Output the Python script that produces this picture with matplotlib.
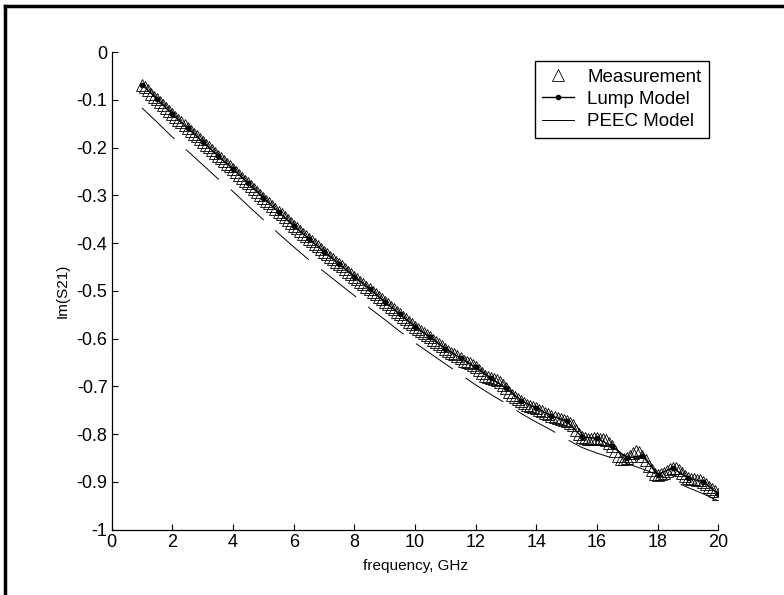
import numpy as np
import matplotlib
matplotlib.use('Agg')
import matplotlib.pyplot as plt
from matplotlib.lines import Line2D

plt.rcParams['font.family'] = ['Liberation Sans', 'DejaVu Sans']

# measurement, 1 to 20 GHz every 0.1 GHz
meas_f = np.round(np.arange(10, 201) / 10.0, 1)
meas_im = [
    -0.068, -0.074, -0.080, -0.087, -0.093, -0.099, -0.105, -0.111, -0.118, -0.124,
    -0.130, -0.136, -0.142, -0.147, -0.153, -0.159, -0.165, -0.171, -0.176, -0.182,
    -0.188, -0.194, -0.199, -0.205, -0.211, -0.217, -0.222, -0.228, -0.234, -0.239,
    -0.245, -0.251, -0.257, -0.263, -0.269, -0.275, -0.281, -0.287, -0.293, -0.299,
    -0.305, -0.311, -0.317, -0.323, -0.329, -0.335, -0.340, -0.346, -0.352, -0.358,
    -0.364, -0.369, -0.375, -0.380, -0.386, -0.391, -0.396, -0.402, -0.407, -0.413,
    -0.418, -0.423, -0.429, -0.434, -0.439, -0.444, -0.449, -0.455, -0.460, -0.465,
    -0.470, -0.475, -0.481, -0.486, -0.491, -0.496, -0.502, -0.507, -0.512, -0.518,
    -0.523, -0.528, -0.533, -0.539, -0.544, -0.549, -0.554, -0.559, -0.565, -0.570,
    -0.575, -0.579, -0.584, -0.589, -0.592, -0.597, -0.603, -0.608, -0.612, -0.616,
    -0.621, -0.626, -0.630, -0.632, -0.636, -0.641, -0.646, -0.650, -0.652, -0.655,
    -0.660, -0.666, -0.672, -0.678, -0.681, -0.683, -0.685, -0.686, -0.690, -0.697,
    -0.704, -0.712, -0.718, -0.722, -0.726, -0.730, -0.735, -0.739, -0.741, -0.743,
    -0.746, -0.749, -0.752, -0.756, -0.759, -0.762, -0.764, -0.766, -0.768, -0.770,
    -0.773, -0.776, -0.782, -0.792, -0.800, -0.806, -0.809, -0.810, -0.810, -0.809,
    -0.809, -0.810, -0.811, -0.813, -0.818, -0.826, -0.836, -0.845, -0.852, -0.853,
    -0.850, -0.845, -0.839, -0.836, -0.838, -0.845, -0.855, -0.866, -0.876, -0.883,
    -0.885, -0.884, -0.881, -0.877, -0.873, -0.871, -0.872, -0.876, -0.882, -0.888,
    -0.892, -0.894, -0.895, -0.896, -0.897, -0.900, -0.905, -0.910, -0.915, -0.920,
    -0.925,
]

# models, every 0.5 GHz
model_f = [1.0, 1.5, 2.0, 2.5, 3.0, 3.5, 4.0, 4.5, 5.0, 5.5, 6.0, 6.5, 7.0, 7.5,
           8.0, 8.5, 9.0, 9.5, 10.0, 10.5, 11.0, 11.5, 12.0, 12.5, 13.0, 13.5,
           14.0, 14.5, 15.0, 15.5, 16.0, 16.5, 17.0, 17.5, 18.0, 18.5, 19.0, 19.5, 20.0]
lump_im = [-0.068, -0.099, -0.130, -0.159, -0.188, -0.217, -0.245, -0.275, -0.305,
           -0.335, -0.364, -0.391, -0.418, -0.444, -0.470, -0.496, -0.523, -0.549,
           -0.575, -0.597, -0.621, -0.641, -0.660, -0.683, -0.704, -0.730, -0.746,
           -0.762, -0.773, -0.806, -0.809, -0.826, -0.850, -0.845, -0.885, -0.871,
           -0.892, -0.900, -0.925]
peec_im = [-0.117, -0.147, -0.178, -0.207, -0.236, -0.265, -0.292, -0.322, -0.351,
           -0.380, -0.408, -0.435, -0.460, -0.485, -0.510, -0.536, -0.560, -0.585,
           -0.609, -0.631, -0.653, -0.675, -0.697, -0.717, -0.736, -0.757, -0.775,
           -0.792, -0.811, -0.828, -0.840, -0.850, -0.862, -0.873, -0.885, -0.898,
           -0.912, -0.925, -0.940]

fig = plt.figure(figsize=(7.84, 5.95), dpi=100)
ax = fig.add_axes([0.1425, 0.110, 0.7737, 0.8024])

ax.plot(meas_f, meas_im, linestyle='none', marker='^', markersize=8.5,
        markerfacecolor='none', markeredgecolor='black', markeredgewidth=0.6,
        label='Measurement')
ax.plot(model_f, lump_im, color='black', linewidth=1.0, marker='.', markersize=6,
        label='Lump Model')
ax.plot(model_f, peec_im, color='black', linewidth=0.7, dashes=(46, 16),
        label='PEEC Model')

ax.set_xlim(0, 20)
ax.set_ylim(-1, 0)
ax.set_xticks(np.arange(0, 21, 2))
ax.set_yticks(np.round(np.arange(-1, 0.01, 0.1), 1))
ax.set_yticklabels(['-1', '-0.9', '-0.8', '-0.7', '-0.6', '-0.5', '-0.4', '-0.3',
                    '-0.2', '-0.1', '0'])
ax.tick_params(direction='in', length=4, width=0.8, labelsize=13, pad=3)
for s in ['top', 'right']:
    ax.spines[s].set_visible(False)
for s in ['left', 'bottom']:
    ax.spines[s].set_linewidth(0.9)

ax.set_xlabel('frequency, GHz', fontsize=11, labelpad=6)
ax.set_ylabel('Im(S21)', fontsize=11, labelpad=5)

handles = [
    Line2D([], [], linestyle='none', marker='^', markersize=9, markerfacecolor='none',
           markeredgecolor='black', markeredgewidth=0.6),
    Line2D([], [], color='black', linewidth=1.0, marker='.', markersize=6),
    Line2D([], [], color='black', linewidth=0.7),
]
leg = fig.legend(handles, ['Measurement', 'Lump Model', 'PEEC Model'],
                 loc='upper right', bbox_to_anchor=(0.9043, 0.8975), fontsize=13.5,
                 frameon=True, fancybox=False, framealpha=1, edgecolor='black',
                 handlelength=1.7, borderpad=0.4, labelspacing=0.28,
                 handletextpad=0.7, borderaxespad=0)
leg.get_frame().set_linewidth(1.0)

# outer frame (top and left edges)
fig.add_artist(Line2D([0.006, 1.0], [0.990, 0.990], color='black', linewidth=2.5,
                      transform=fig.transFigure))
fig.add_artist(Line2D([0.007, 0.007], [0.0, 0.990], color='black', linewidth=2.5,
                      transform=fig.transFigure))

fig.savefig('out.png', dpi=100)
